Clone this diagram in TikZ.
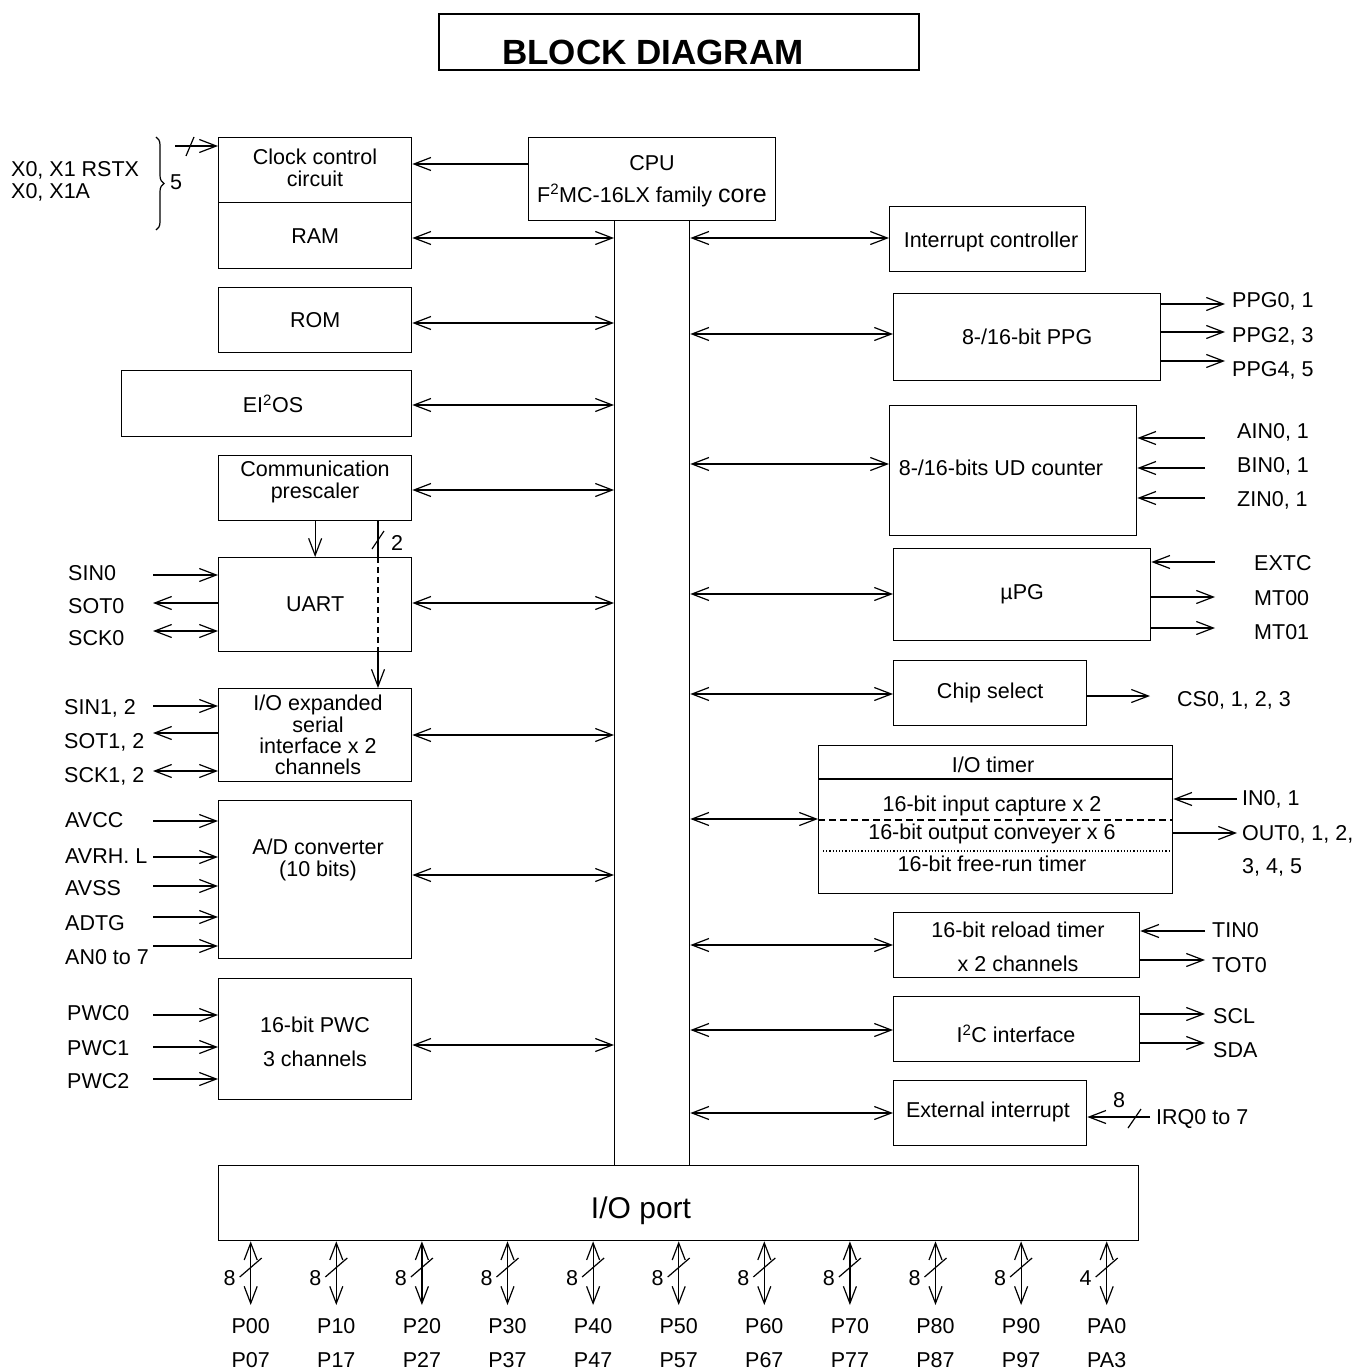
\documentclass[tikz,border=0pt]{standalone}
\usepackage{fontspec}
\setmainfont{Liberation Sans}
\usetikzlibrary{arrows.meta,decorations.pathreplacing}
\newcommand\fsz{\fontsize{21.5}{22}\selectfont}
\begin{document}
\begin{tikzpicture}[x=1pt,y=-1pt,
  >={Straight Barb[length=17pt,width=13pt]},
  box/.style={draw,line width=1.3pt,inner sep=0,align=center,font=\fsz,anchor=north west},
  txt/.style={inner sep=0,font=\fsz,align=center},
  lbl/.style={inner sep=0,font=\fsz,anchor=west},
  con/.style={line width=1.2pt}]
\useasboundingbox (0,0) rectangle (1354,1370);

% title
\node[draw,line width=1.6pt,minimum width=480,minimum height=56,anchor=north west,inner sep=0] (title) at (438,13) {};
\node[inner sep=0,font=\fontsize{35}{36}\selectfont\bfseries] (titletxt) at (653,52) {BLOCK DIAGRAM};

% left column boxes
\node[box,minimum width=193,minimum height=65] (clk) at (218,137) {};
\node[txt] (clktxt) at (315,168) {Clock control\\circuit};
\node[box,minimum width=193,minimum height=66] (ram) at (218,202) {RAM};
\node[box,minimum width=193,minimum height=65] (rom) at (218,287) {ROM};
\node[box,minimum width=290,minimum height=66] (eios) at (121,370) {};
\node[txt] (eiostxt) at (273,404) {EI\textsuperscript{\fontsize{15}{15}\selectfont 2}OS};
\node[box,minimum width=193,minimum height=65] (presc) at (218,455) {};
\node[txt] (presctxt) at (315,482) {Communication\\prescaler};
\node[box,minimum width=193,minimum height=94] (uart) at (218,557) {UART};
\node[box,minimum width=193,minimum height=93] (ioexp) at (218,688) {};
\node[txt,font=\fontsize{21.5}{21.3}\selectfont] (ioexptxt) at (318,735) {I/O expanded\\serial\\interface x 2\\channels};
\node[box,minimum width=193,minimum height=158] (ad) at (218,800) {};
\node[txt] (adtxt) at (318,860) {A/D converter\\(10 bits)};
\node[box,minimum width=193,minimum height=121] (pwc) at (218,978) {};
\node[txt,font=\fontsize{21.5}{34}\selectfont] (pwctxt) at (315,1042) {16-bit PWC\\3 channels};

% CPU and bus
\node[box,minimum width=247,minimum height=83] (cpu) at (528,137) {};
\node[txt,font=\fontsize{21.5}{32}\selectfont] (cputxt) at (652,181) {CPU\\F\textsuperscript{2}MC-16LX family {\fontsize{25}{32}\selectfont core}};
\node[draw,line width=1.3pt,minimum width=75,minimum height=945,anchor=north west,inner sep=0] (bus) at (614,220) {};

% I/O port
\node[box,minimum width=920,minimum height=75] (iop) at (218,1165) {};
\node[txt,font=\fontsize{30}{32}\selectfont] (ioptxt) at (641,1211) {I/O port};

% right column boxes
\node[box,minimum width=196,minimum height=65] (intc) at (889,206) {};
\node[txt] (intctxt) at (991,242) {Interrupt controller};
\node[box,minimum width=267,minimum height=87] (ppg) at (893,293) {8-/16-bit PPG};
\node[box,minimum width=247,minimum height=130] (ud) at (889,405) {};
\node[txt] (udtxt) at (1001,468) {8-/16-bits UD counter};
\node[box,minimum width=257,minimum height=92] (upg) at (893,548) {µPG};
\node[box,minimum width=193,minimum height=65] (cs) at (893,660) {Chip select};
\node[box,minimum width=354,minimum height=148] (iot) at (818,745) {};
\node[txt] (iot1) at (993,765) {I/O timer};
\node[txt] (iot2) at (992,806) {16-bit input capture x 2};
\node[txt] (iot3) at (992,834) {16-bit output conveyer x 6};
\node[txt] (iot4) at (992,864) {16-bit free-run timer};
\draw[line width=1.3pt] (iot.west |- 0,779) -- (iot.east |- 0,779);
\draw[line width=1.2pt,dash pattern=on 7pt off 4pt] (iot.west |- 0,820) -- (iot.east |- 0,820);
\draw[line width=1.2pt,dotted] (823,851) -- (iot.east |- 0,851);
\node[box,minimum width=246,minimum height=65] (rel) at (893,912) {};
\node[txt,font=\fontsize{21.5}{34}\selectfont] (reltxt) at (1018,947) {16-bit reload timer\\x 2 channels};
\node[box,minimum width=246,minimum height=65] (i2c) at (893,996) {};
\node[txt] (i2ctxt) at (1016,1034) {I\textsuperscript{2}C interface};
\node[box,minimum width=193,minimum height=65] (ext) at (893,1080) {};
\node[txt] (exttxt) at (988,1112) {External interrupt};

% connectors CPU -> clock, left bus arrows
\draw[con,->] (cpu.west |- 0,164) -- (clk.east |- 0,164);
\draw[con,<->] (ram.east |- 0,238) -- (bus.west |- 0,238);
\draw[con,<->] (rom.east |- 0,323) -- (bus.west |- 0,323);
\draw[con,<->] (eios.east |- 0,405) -- (bus.west |- 0,405);
\draw[con,<->] (presc.east |- 0,490) -- (bus.west |- 0,490);
\draw[con,<->] (uart.east |- 0,603) -- (bus.west |- 0,603);
\draw[con,<->] (ioexp.east |- 0,735) -- (bus.west |- 0,735);
\draw[con,<->] (ad.east |- 0,875) -- (bus.west |- 0,875);
\draw[con,<->] (pwc.east |- 0,1045) -- (bus.west |- 0,1045);

% right bus arrows
\draw[con,<->] (bus.east |- 0,238) -- (intc.west |- 0,238);
\draw[con,<->] (bus.east |- 0,334) -- (ppg.west |- 0,334);
\draw[con,<->] (bus.east |- 0,464) -- (ud.west |- 0,464);
\draw[con,<->] (bus.east |- 0,594) -- (upg.west |- 0,594);
\draw[con,<->] (bus.east |- 0,694) -- (cs.west |- 0,694);
\draw[con,<->] (bus.east |- 0,819) -- (iot.west |- 0,819);
\draw[con,<->] (bus.east |- 0,945) -- (rel.west |- 0,945);
\draw[con,<->] (bus.east |- 0,1030) -- (i2c.west |- 0,1030);
\draw[con,<->] (bus.east |- 0,1113) -- (ext.west |- 0,1113);

% prescaler outputs
\draw[con,->] (presc.south) -- (uart.north);
\draw[con] (presc.south -| 378,0) -- (uart.north -| 378,0);
\draw[con,dash pattern=on 6pt off 4pt] (uart.north -| 378,0) -- (uart.south -| 378,0);
\draw[con,->] (uart.south -| 378,0) -- (ioexp.north -| 378,0);
\draw[con] (372,549) -- (384,531);
\node[lbl] (n2) at (391,543) {2};

% clock inputs
\coordinate (xin) at (175,146);
\draw[con,->] (xin) -- (clk.west |- xin);
\draw[con] (186,156) -- (194,137);
\draw[line width=1.2pt,decorate,decoration={brace,amplitude=8pt}] (156,137) -- (156,230);
\node[lbl] (n5) at (170,182) {5};
\node[lbl] (x1) at (11,170) {X0, X1 RSTX};
\node[lbl] (x2) at (11,192) {X0, X1A};

% UART signals
\coordinate (s1) at (153,575);
\coordinate (s2) at (153,603);
\coordinate (s3) at (153,631);
\draw[con,->] (s1) -- (uart.west |- s1);
\draw[con,<-] (s2) -- (uart.west |- s2);
\draw[con,<->] (s3) -- (uart.west |- s3);
\node[lbl] (sin0) at (68,573) {SIN0};
\node[lbl] (sot0) at (68,606) {SOT0};
\node[lbl] (sck0) at (68,638) {SCK0};

\coordinate (s4) at (153,706);
\coordinate (s5) at (153,733);
\coordinate (s6) at (153,771);
\draw[con,->] (s4) -- (ioexp.west |- s4);
\draw[con,<-] (s5) -- (ioexp.west |- s5);
\draw[con,<->] (s6) -- (ioexp.west |- s6);
\node[lbl] (sin1) at (64,708) {SIN1, 2};
\node[lbl] (sot1) at (64,742) {SOT1, 2};
\node[lbl] (sck1) at (64,776) {SCK1, 2};

% A/D signals
\foreach \y/\t/\ty [count=\k] in {821/AVCC/820, 857/AVRH. L/856, 886/AVSS/888, 917/ADTG/923, 946/AN0 to 7/957} {
  \coordinate (ada\k) at (153,\y);
  \draw[con,->] (ada\k) -- (ad.west |- ada\k);
  \node[lbl] (adl\k) at (65,\ty) {\t};
}
% PWC signals
\foreach \y/\t/\ty [count=\k] in {1015/PWC0/1013, 1047/PWC1/1048, 1079/PWC2/1081} {
  \coordinate (pwa\k) at (153,\y);
  \draw[con,->] (pwa\k) -- (pwc.west |- pwa\k);
  \node[lbl] (pwl\k) at (67,\ty) {\t};
}

% PPG outputs
\foreach \y/\t/\ty [count=\k] in {304/{PPG0, 1}/301, 332/{PPG2, 3}/336, 361/{PPG4, 5}/370} {
  \coordinate (ppo\k) at (1225,\y);
  \draw[con,->] (ppg.east |- ppo\k) -- (ppo\k);
  \node[lbl] (ppl\k) at (1232,\ty) {\t};
}
% UD inputs
\foreach \y/\t/\ty [count=\k] in {438/{AIN0, 1}/432, 468/{BIN0, 1}/466, 498/{ZIN0, 1}/500} {
  \coordinate (udi\k) at (1205,\y);
  \draw[con,->] (udi\k) -- (ud.east |- udi\k);
  \node[lbl] (udl\k) at (1237,\ty) {\t};
}
% uPG
\coordinate (up1) at (1215,562);
\coordinate (up2) at (1215,597);
\coordinate (up3) at (1215,628);
\draw[con,->] (up1) -- (upg.east |- up1);
\draw[con,->] (upg.east |- up2) -- (up2);
\draw[con,->] (upg.east |- up3) -- (up3);
\node[lbl] (extc) at (1254,563) {EXTC};
\node[lbl] (mt00) at (1254,598) {MT00};
\node[lbl] (mt01) at (1254,632) {MT01};

% chip select
\coordinate (cso) at (1150,696);
\draw[con,->] (cs.east |- cso) -- (cso);
\node[lbl] (csl) at (1177,700) {CS0, 1, 2, 3};

% I/O timer
\coordinate (iti) at (1237,799);
\coordinate (ito) at (1237,833);
\draw[con,->] (iti) -- (iot.east |- iti);
\draw[con,->] (iot.east |- ito) -- (ito);
\node[lbl] (in0) at (1242,799) {IN0, 1};
\node[lbl] (out0) at (1242,834) {OUT0, 1, 2,};
\node[lbl] (out1) at (1242,867) {3, 4, 5};

% reload timer
\coordinate (rti) at (1205,931);
\coordinate (rto) at (1205,960);
\draw[con,->] (rti) -- (rel.east |- rti);
\draw[con,->] (rel.east |- rto) -- (rto);
\node[lbl] (tin0) at (1212,930) {TIN0};
\node[lbl] (tot0) at (1212,965) {TOT0};

% I2C
\coordinate (ic1) at (1205,1014);
\coordinate (ic2) at (1205,1043);
\draw[con,->] (i2c.east |- ic1) -- (ic1);
\draw[con,->] (i2c.east |- ic2) -- (ic2);
\node[lbl] (scl) at (1213,1016) {SCL};
\node[lbl] (sda) at (1213,1050) {SDA};

% external interrupt
\coordinate (irq) at (1150,1117);
\draw[con,->] (irq) -- (ext.east |- irq);
\draw[con] (1128,1128) -- (1141,1109);
\node[lbl,anchor=center] (n8) at (1119,1100) {8};
\node[lbl] (irql) at (1156,1119) {IRQ0 to 7};

% ports
\foreach \a/\b/\n [count=\k from 0] in {P00/P07/8, P10/P17/8, P20/P27/8, P30/P37/8, P40/P47/8, P50/P57/8, P60/P67/8, P70/P77/8, P80/P87/8, P90/P97/8, PA0/PA3/4} {
  \pgfmathsetmacro\xx{250.7+85.6*\k}
  \coordinate (pe\k) at (\xx,1305);
  \draw[con,<->] (iop.south -| pe\k) -- (pe\k);
  \draw[con] (\xx-11,1277) -- (\xx+11,1258);
  \node[txt] (pw\k) at (\xx-21,1278) {\n};
  \node[txt] (pa\k) at (\xx,1326) {\a};
  \node[txt] (pb\k) at (\xx,1360) {\b};
}
\end{tikzpicture}
\end{document}
